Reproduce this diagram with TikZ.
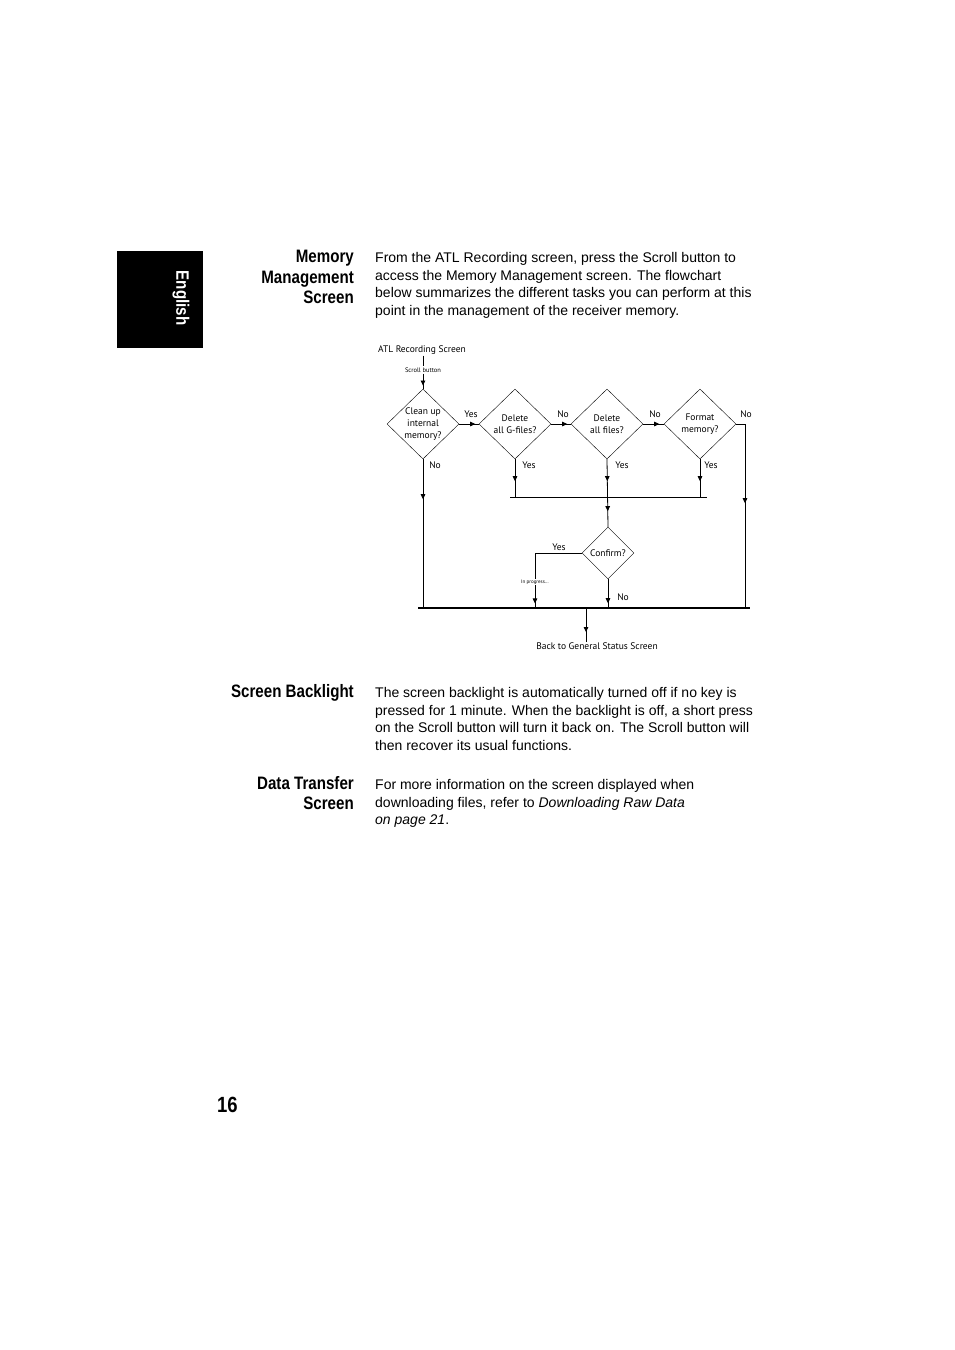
\documentclass[tikz,border=0pt]{standalone}
\usepackage{fontspec}
\setmainfont{Liberation Sans}
\newfontfamily\headfont[FakeStretch=0.84]{Liberation Sans}
\newfontfamily\chartfont{PT Sans}
\usetikzlibrary{arrows.meta,decorations.markings,shapes.geometric}

\tikzset{
    midarrow/.style={postaction={decorate,decoration={markings,
        mark=at position #1 with {\arrow{Triangle[length=5pt,width=4.5pt]}}}}}
}

\begin{document}
\begin{tikzpicture}[
    x=1pt, y=-1pt,
    heading/.style={
        anchor=north east,
        align=right,
        inner sep=0pt,
        font=\headfont\bfseries\fontsize{18}{20.5}\selectfont
    },
    body/.style={
        anchor=north west,
        align=left,
        inner sep=0pt,
        font=\fontsize{14}{17.8}\selectfont
    },
    decision/.style={
        draw,
        diamond,
        aspect=1,
        inner sep=-4pt,
        minimum width=72pt,
        minimum height=70pt,
        align=center,
        font=\chartfont\fontsize{9.5}{12}\selectfont
    },
    tag/.style={inner sep=1pt, font=\chartfont\fontsize{9.5}{10}\selectfont},
    flow/.style={line width=0.8pt}
]

% Page
\fill[white] (0,0) rectangle (954,1350);
\useasboundingbox (0,0) rectangle (954,1350);

% Language tab
\fill[black] (117,251) rectangle (203,348);
\node[rotate=-90, text=white, inner sep=0pt, font=\headfont\bfseries\fontsize{18}{18}\selectfont] (lang) at (181,298) {English};

% Section headings
\node[heading] (memhead)  at (354,250) {Memory\\Management\\Screen};
\node[heading] (backhead) at (354,684) {Screen Backlight};
\node[heading] (datahead) at (354,776) {Data Transfer\\Screen};

% Body text
\node[body] (memtext) at (375,252) {From the ATL Recording screen, press the Scroll button to\\
access the Memory Management screen. The flowchart\\
below summarizes the different tasks you can perform at this\\
point in the management of the receiver memory.};
\node[body] (backtext) at (375,687) {The screen backlight is automatically turned off if no key is\\
pressed for 1 minute. When the backlight is off, a short press\\
on the Scroll button will turn it back on. The Scroll button will\\
then recover its usual functions.};
\node[body] (datatext) at (375,779) {For more information on the screen displayed when\\
downloading files, refer to \textit{Downloading Raw Data}\\
\textit{on page 21}.};

% Page number
\node[anchor=base west, inner sep=0pt, font=\headfont\bfseries\fontsize{22}{22}\selectfont] (pagenum) at (217,1112) {16};

% Flowchart - start
\node[tag] (atl) at (422,350) {ATL Recording Screen};
\node[tag, font=\chartfont\fontsize{6.5}{7}\selectfont] (scroll) at (423,370) {Scroll button};

% Decision row
\node[decision] (clean)  at (423,424) {Clean up\\internal\\memory?};
\node[decision] (gfiles) at (515,424) {Delete\\all G-files?};
\node[decision] (all)    at (607,424) {Delete\\all files?};
\node[decision] (format) at (700,424) {Format\\memory?};

% Confirmation
\node[decision, minimum width=52pt, minimum height=52pt] (confirm) at (608,553) {Confirm?};
\node[tag, font=\chartfont\fontsize{5}{6}\selectfont] (busy) at (535,582) {In progress...};

% Bus points
\coordinate (busL)  at (510,497);
\coordinate (busR)  at (707,497);
\coordinate (baseL) at (418,608);
\coordinate (baseR) at (750,608);
\coordinate (split) at (586,608);
\node[tag, anchor=north] (back) at (597,642) {Back to General Status Screen};

% Entry
\draw[flow] (atl.south -| scroll) -- (scroll.north);
\draw[flow, midarrow=12pt] (scroll.south) -- (clean.north);

% Across the row
\draw[flow, midarrow=16pt] (clean.east)  -- (gfiles.west);
\draw[flow, midarrow=16pt] (gfiles.east) -- (all.west);
\draw[flow, midarrow=16pt] (all.east)    -- (format.west);
\draw[flow, midarrow=88pt] (format.east) -| (baseR -| 745,0);

% Down to the bus
\draw[flow, midarrow=40pt] (clean.south)  -- (clean.south |- baseL);
\draw[flow, midarrow=22pt] (gfiles.south) -- (gfiles.south |- busL);
\draw[flow, midarrow=22pt, midarrow=52pt] (all.south) -- (confirm.north);
\draw[flow, midarrow=22pt] (format.south) -- (format.south |- busR);
\draw[flow] (busL) -- (busR);

% From confirmation
\draw[flow] (confirm.west) -| (busy.north);
\draw[flow, midarrow=18pt] (busy.south) -- (busy.south |- baseL);
\draw[flow, midarrow=24pt] (confirm.south) -- (confirm.south |- baseL);

% Exit
\draw[line width=1.8pt] (baseL) -- (baseR);
\draw[flow, midarrow=24pt] (split) -- (split |- back.north);

% Labels
\node[tag] (yes1) at (471,414) {Yes};
\node[tag] (no1)  at (563,414) {No};
\node[tag] (no2)  at (655,414) {No};
\node[tag] (no3)  at (746,414) {No};
\node[tag] (no4)  at (435,465) {No};
\node[tag] (yes2) at (529,465) {Yes};
\node[tag] (yes3) at (622,465) {Yes};
\node[tag] (yes4) at (711,465) {Yes};
\node[tag] (yes5) at (559,547) {Yes};
\node[tag] (no5)  at (623,597) {No};

\end{tikzpicture}
\end{document}
